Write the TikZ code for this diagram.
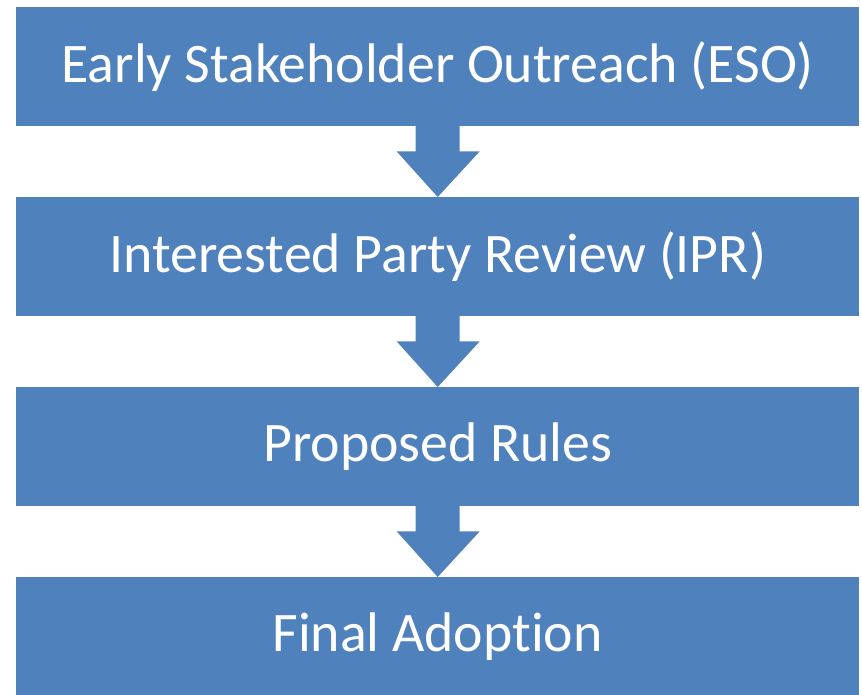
\documentclass[tikz,border=0pt]{standalone}
\usepackage{fontspec}
\setmainfont[Ligatures={NoCommon}]{Carlito}
\definecolor{boxblue}{HTML}{4F81BD}
\begin{document}
\begin{tikzpicture}[x=1pt,y=-1pt,
  stage/.style={fill=boxblue,draw=none,minimum width=843pt,minimum height=119pt,inner sep=0pt,
    text=white,font=\fontsize{55.8}{62}\selectfont,anchor=north west},
  downarrow/.style={fill=boxblue,draw=none}]
\useasboundingbox (0,0) rectangle (862,694);
\node[stage] (b1) at (16,7) {Early Stakeholder Outreach (ESO)};
\node[stage] (b2) at (16,197) {Interested Party Review (IPR)};
\node[stage] (b3) at (16,387) {Proposed Rules};
\node[stage] (b4) at (16,577) {Final Adoption};
\foreach \a/\b in {b1/b2,b2/b3,b3/b4}{
  \fill[boxblue] ([xshift=-22pt,yshift=2pt]\a.south) -- ([xshift=22pt,yshift=2pt]\a.south)
    -- ([xshift=22pt,yshift=-25pt]\a.south) -- ([xshift=42pt,yshift=-25pt]\a.south)
    -- ([yshift=0pt]\b.north) -- ([xshift=-41pt,yshift=-25pt]\a.south)
    -- ([xshift=-22pt,yshift=-25pt]\a.south) -- cycle;
}
\end{tikzpicture}
\end{document}
